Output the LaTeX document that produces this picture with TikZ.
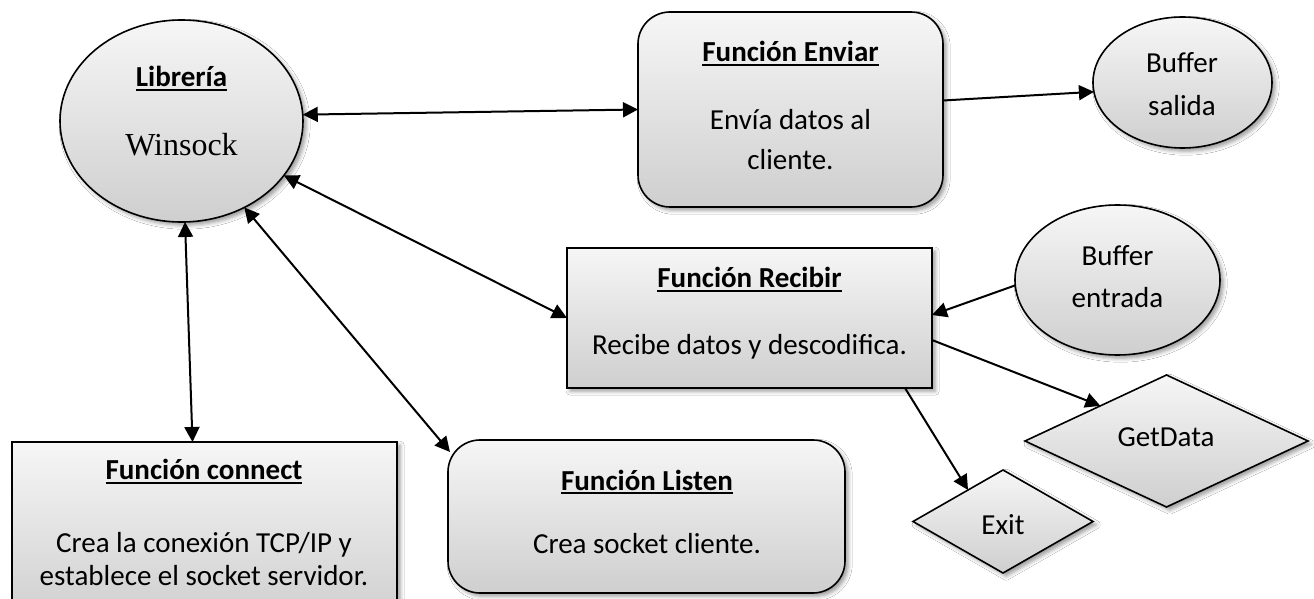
\documentclass[tikz,border=0pt]{standalone}
\usepackage{fontspec}
\setmainfont{Carlito}
\newfontfamily\winfont{Liberation Serif}
\usetikzlibrary{shapes.geometric,shadows.blur,arrows.meta,calc}

% bold underlined heading
\newcommand{\titulo}[1]{\setbox0\hbox{\bfseries #1}\leavevmode\rlap{\raisebox{-1.9pt}{\rule{\wd0}{0.7pt}}}\box0}

\tikzset{
  bloque/.style={draw=black, line width=0.8pt, top color=gray!7, bottom color=gray!38,
    inner sep=0pt, outer sep=0pt,
    blur shadow={shadow xshift=1.6pt, shadow yshift=-1.6pt, shadow blur radius=2pt, shadow opacity=40}},
  elipse/.style={bloque, ellipse},
  caja/.style={bloque, rectangle},
  cajaredonda/.style={bloque, rectangle, rounded corners=16pt},
  rombo/.style={bloque, diamond},
  texto/.style={anchor=base, inner sep=0pt, font=\fontsize{14.5}{17}\selectfont},
  flecha/.style={line width=1pt, -{Triangle[length=7.5pt,width=7.5pt]}},
  doble/.style={line width=1pt, {Triangle[length=7.5pt,width=7.5pt]}-{Triangle[length=7.5pt,width=7.5pt]}},
}

\begin{document}
\begin{tikzpicture}[x=0.5pt,y=-0.5pt]
\clip (0,0) rectangle (1314,599);
\fill[white] (0,0) rectangle (1314,599);

% shapes
\node[elipse, minimum width=121.5pt, minimum height=101pt] (lib) at (181.5,121) {};
\node[cajaredonda, minimum width=152.5pt, minimum height=97.5pt] (env) at (790.5,109.5) {};
\node[elipse, minimum width=89.5pt, minimum height=65.5pt] (bs) at (1182.5,82.5) {};
\node[elipse, minimum width=102.5pt, minimum height=75pt] (be) at (1117.5,280) {};
\node[caja, minimum width=182.5pt, minimum height=70pt] (rec) at (749.5,318) {};
\node[caja, minimum width=192.5pt, minimum height=90pt] (con) at (204.5,532) {};
\node[cajaredonda, minimum width=198.5pt, minimum height=76.5pt] (lis) at (646.5,516.5) {};
\node[rombo, minimum width=141.5pt, minimum height=66pt] (gd) at (1166.5,441) {};
\node[rombo, minimum width=90pt, minimum height=51.5pt] (ex) at (1003,521.5) {};

% texts
\node[texto] (tlib) at (181.5,87) {\titulo{Librería}};
\node[texto, font=\winfont\fontsize{16}{19}\selectfont] (twin) at (181.5,156) {Winsock};

\node[texto] (tenv1) at (790.5,62) {\titulo{Función Enviar}};
\node[texto] (tenv2) at (790.5,130) {Envía datos al};
\node[texto] (tenv3) at (790.5,170) {cliente.};

\node[texto] (tbs1) at (1182,73) {Buffer};
\node[texto] (tbs2) at (1182,116) {salida};

\node[texto] (tbe1) at (1117.5,266) {Buffer};
\node[texto] (tbe2) at (1117.5,307) {entrada};

\node[texto] (trec1) at (749.5,288) {\titulo{Función Recibir}};
\node[texto] (trec2) at (749.5,355) {Recibe datos y descodifica.};

\node[texto] (tcon1) at (204,480) {\titulo{Función connect}};
\node[texto] (tcon2) at (204,552) {Crea la conexión TCP/IP y};
\node[texto] (tcon3) at (204,585) {establece el socket servidor.};

\node[texto] (tlis1) at (647,490) {\titulo{Función Listen}};
\node[texto] (tlis2) at (647,553) {Crea socket cliente.};

\node[texto] (tgd) at (1166,446) {GetData};
\node[texto] (tex) at (1003,534) {Exit};

% connectors
\draw[doble] (lib.3) -- (env.west);
\draw[flecha] ([yshift=4.5pt]env.east) -- (bs.186);
\draw[doble] (lib.-28) -- (rec.west);
\draw[doble] (lib.-54) -- ($(lis.north west)+(2,12)$);
\draw[doble] (lib.-88) -- ([xshift=-6pt]con.north);
\draw[flecha] (be.183) -- ([yshift=1.5pt]rec.east);
\draw[flecha] ([yshift=-11pt]rec.east) -- (gd.152);
\draw[flecha] ([xshift=77.75pt]rec.south) -- (ex.138);
\end{tikzpicture}
\end{document}
